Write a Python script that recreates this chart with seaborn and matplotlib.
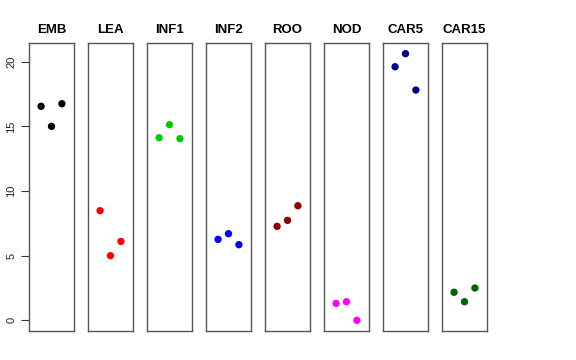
import numpy as np
import pandas as pd
import matplotlib
matplotlib.use("Agg")
import matplotlib.pyplot as plt
import seaborn as sns

# tissue groups, three replicates each
groups = ["EMB", "LEA", "INF1", "INF2", "ROO", "NOD", "CAR5", "CAR15"]
emb = [16.55, 15.0, 16.75]
lea = [8.48, 5.0, 6.1]
inf1 = [14.12, 15.13, 14.05]
inf2 = [6.26, 6.7, 5.85]
roo = [7.27, 7.73, 8.86]
nod = [1.31, 1.44, 0.0]
car5 = [19.61, 20.62, 17.81]
car15 = [2.17, 1.44, 2.5]
colors = ["black", "red", "#00CD00", "blue", "#8B0000", "magenta", "#00008B", "#006400"]

values = [emb, lea, inf1, inf2, roo, nod, car5, car15]
df = pd.DataFrame({
    "group": np.repeat(groups, 3),
    "rep": [1, 2, 3] * len(groups),
    "value": np.concatenate(values),
})

sns.set_style("white")
plt.rcParams["font.family"] = ["Liberation Sans", "DejaVu Sans"]
plt.rcParams["text.color"] = "black"
plt.rcParams["ytick.color"] = "black"

W, H = 576, 360
fig = plt.figure(figsize=(W / 100, H / 100), dpi=100)

ymin, ymax = df["value"].min(), df["value"].max()
pad = (ymax - ymin) * 0.04

for i, (g, c) in enumerate(zip(groups, colors)):
    left = 29 + 59 * i
    ax = fig.add_axes([left / W, 29 / H, 45 / W, 288 / H])
    sub = df[df["group"] == g]
    sns.scatterplot(data=sub, x="rep", y="value", color=c, s=28,
                    edgecolor="none", ax=ax, legend=False)
    ax.set_xlim(-0.16, 4.16)
    ax.set_ylim(ymin - pad, ymax + pad)
    ax.set_xticks([])
    ax.set_xlabel("")
    ax.set_ylabel("")
    ax.set_title(g, fontsize=9.5, fontweight="bold", pad=7, color="black")
    for sp in ax.spines.values():
        sp.set_visible(True)
        sp.set_color("#555555")
        sp.set_linewidth(1.0)
    if i == 0:
        ax.set_yticks([0, 5, 10, 15, 20])
        ax.tick_params(axis="y", left=True, length=6, width=0.8,
                       color="#333333", labelcolor="#222222", labelsize=8, pad=3)
        for lab in ax.get_yticklabels():
            lab.set_rotation(90)
            lab.set_va("center")
    else:
        ax.set_yticks([])

fig.savefig("out.png", dpi=100)
